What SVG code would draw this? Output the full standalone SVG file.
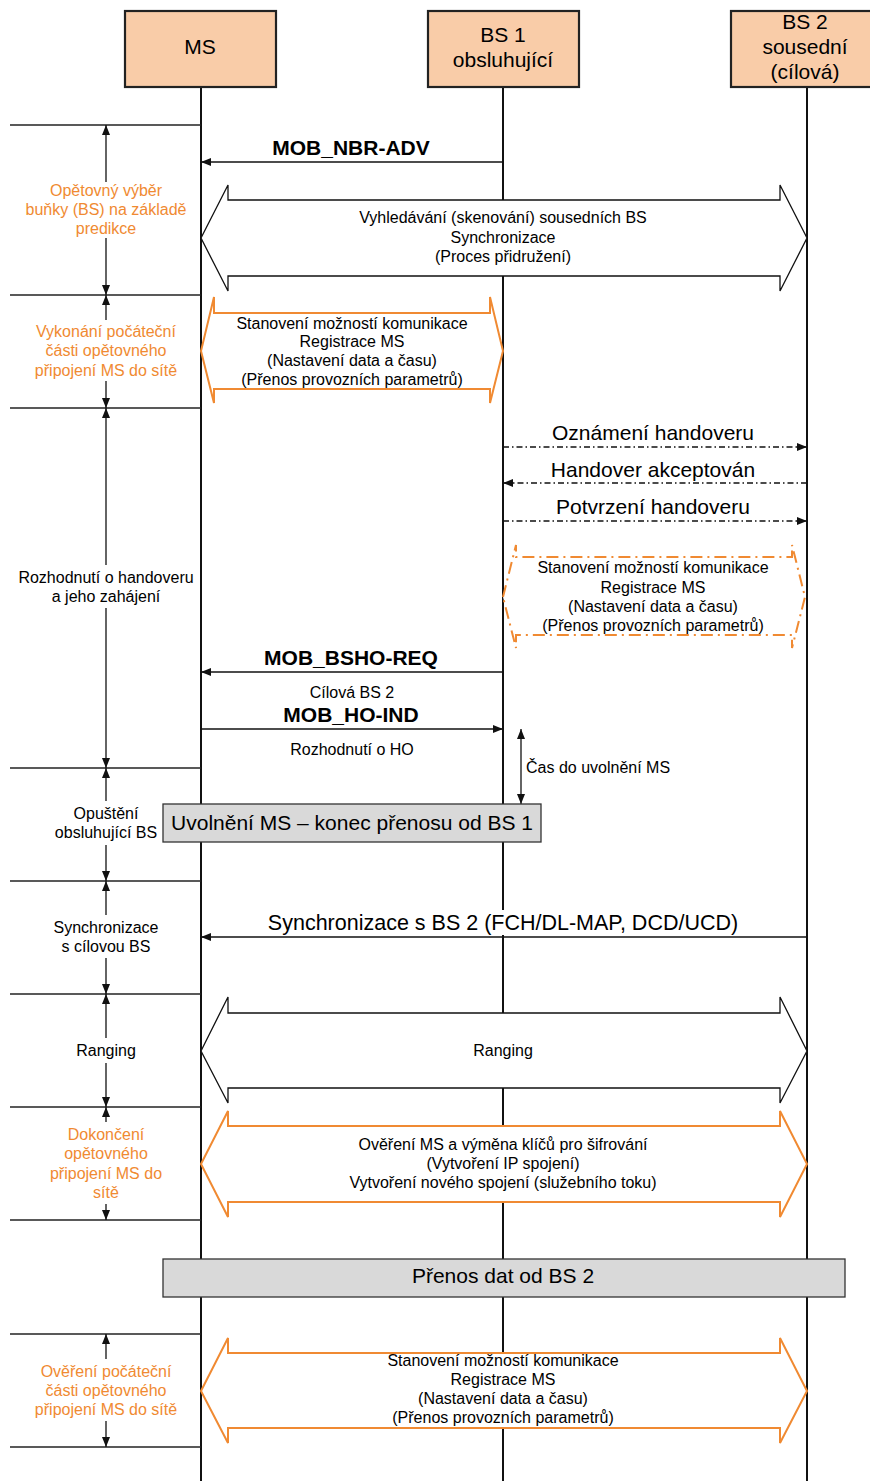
<svg xmlns="http://www.w3.org/2000/svg" width="870" height="1481" viewBox="0 0 870 1481">
<style>
text{font-family:"Liberation Sans",Arial,sans-serif;fill:#000;text-anchor:middle}
.t16{font-size:16px}
.t21{font-size:21px}
.b21{font-size:21px;font-weight:bold}
.or{fill:#F08A32}
.hdr{fill:#F9CCA8;stroke:#222;stroke-width:2.2}
.life{stroke:#111;stroke-width:2;fill:none}
.sep{stroke:#222;stroke-width:1.3;fill:none}
.msg{stroke:#111;stroke-width:1.3;fill:none}
.dd{stroke:#111;stroke-width:1.3;fill:none;stroke-dasharray:6 3 1.5 3}
.blk{fill:#fff;stroke:#111;stroke-width:1.3}
.oblk{fill:#fff;stroke:#F08A32;stroke-width:2}
.odash{fill:#fff;stroke:#F08A32;stroke-width:2;stroke-dasharray:12 5 2 5}
.gray{fill:#D9D9D9;stroke:#333;stroke-width:1.3}
</style>
<defs>
<marker id="ah" viewBox="0 0 10 8" refX="10" refY="4" markerWidth="10" markerHeight="8" markerUnits="userSpaceOnUse" orient="auto-start-reverse">
<path d="M0,0 L10,4 L0,8 z" fill="#111"/>
</marker>
</defs>

<g id="lifelines">
<line class="life" x1="201" y1="87" x2="201" y2="1481"/>
<line class="life" x1="503" y1="87" x2="503" y2="1481"/>
<line class="life" x1="807" y1="87" x2="807" y2="1481"/>
</g>

<g id="node-ms">
<rect class="hdr" x="125" y="11" width="151" height="76"/>
<text class="t21" x="200" y="54">MS</text>
</g>
<g id="node-bs1">
<rect class="hdr" x="428" y="11" width="151" height="76"/>
<text class="t21" x="503" y="42">BS 1</text>
<text class="t21" x="503" y="67">obsluhující</text>
</g>
<g id="node-bs2">
<rect class="hdr" x="731" y="11" width="150" height="76"/>
<text class="t21" x="805" y="29">BS 2</text>
<text class="t21" x="805" y="54">sousední</text>
<text class="t21" x="805" y="79">(cílová)</text>
</g>

<g id="connectors">
<!-- phase separators -->
<line class="sep" x1="10" y1="125" x2="201" y2="125"/>
<line class="sep" x1="10" y1="295" x2="201" y2="295"/>
<line class="sep" x1="10" y1="408" x2="201" y2="408"/>
<line class="sep" x1="10" y1="768" x2="201" y2="768"/>
<line class="sep" x1="10" y1="881" x2="201" y2="881"/>
<line class="sep" x1="10" y1="994" x2="201" y2="994"/>
<line class="sep" x1="10" y1="1107" x2="201" y2="1107"/>
<line class="sep" x1="10" y1="1220" x2="201" y2="1220"/>
<line class="sep" x1="10" y1="1334" x2="201" y2="1334"/>
<line class="sep" x1="10" y1="1447" x2="201" y2="1447"/>
<!-- phase extent arrows -->
<line class="msg" x1="106" y1="182" x2="106" y2="125" marker-end="url(#ah)"/>
<line class="msg" x1="106" y1="238" x2="106" y2="295" marker-end="url(#ah)"/>
<line class="msg" x1="106" y1="320" x2="106" y2="295" marker-end="url(#ah)"/>
<line class="msg" x1="106" y1="381" x2="106" y2="408" marker-end="url(#ah)"/>
<line class="msg" x1="106" y1="565" x2="106" y2="408" marker-end="url(#ah)"/>
<line class="msg" x1="106" y1="608" x2="106" y2="768" marker-end="url(#ah)"/>
<line class="msg" x1="106" y1="801" x2="106" y2="768" marker-end="url(#ah)"/>
<line class="msg" x1="106" y1="845" x2="106" y2="881" marker-end="url(#ah)"/>
<line class="msg" x1="106" y1="915" x2="106" y2="881" marker-end="url(#ah)"/>
<line class="msg" x1="106" y1="958" x2="106" y2="994" marker-end="url(#ah)"/>
<line class="msg" x1="106" y1="1038" x2="106" y2="994" marker-end="url(#ah)"/>
<line class="msg" x1="106" y1="1063" x2="106" y2="1107" marker-end="url(#ah)"/>
<line class="msg" x1="106" y1="1122" x2="106" y2="1107" marker-end="url(#ah)"/>
<line class="msg" x1="106" y1="1204" x2="106" y2="1220" marker-end="url(#ah)"/>
<line class="msg" x1="106" y1="1359" x2="106" y2="1334" marker-end="url(#ah)"/>
<line class="msg" x1="106" y1="1421" x2="106" y2="1447" marker-end="url(#ah)"/>
<!-- messages -->
<line class="msg" x1="503" y1="162" x2="201" y2="162" marker-end="url(#ah)"/>
<line class="dd" x1="503" y1="447" x2="807" y2="447" marker-end="url(#ah)"/>
<line class="dd" x1="807" y1="483" x2="503" y2="483" marker-end="url(#ah)"/>
<line class="dd" x1="503" y1="521" x2="807" y2="521" marker-end="url(#ah)"/>
<line class="msg" x1="503" y1="672" x2="201" y2="672" marker-end="url(#ah)"/>
<line class="msg" x1="201" y1="729" x2="503" y2="729" marker-end="url(#ah)"/>
<line class="msg" x1="521" y1="729" x2="521" y2="804" marker-start="url(#ah)" marker-end="url(#ah)"/>
<line class="msg" x1="807" y1="937" x2="201" y2="937" marker-end="url(#ah)"/>
</g>

<g id="phase-labels">
<text class="t16 or" x="106" y="196">Opětovný výběr</text>
<text class="t16 or" x="106" y="215">buňky (BS) na základě</text>
<text class="t16 or" x="106" y="234">predikce</text>
<text class="t16 or" x="106" y="337">Vykonání počáteční</text>
<text class="t16 or" x="106" y="356">části opětovného</text>
<text class="t16 or" x="106" y="376">připojení MS do sítě</text>
<text class="t16" x="106" y="583">Rozhodnutí o handoveru</text>
<text class="t16" x="106" y="602">a jeho zahájení</text>
<text class="t16" x="106" y="819">Opuštění</text>
<text class="t16" x="106" y="838">obsluhující BS</text>
<text class="t16" x="106" y="933">Synchronizace</text>
<text class="t16" x="106" y="952">s cílovou BS</text>
<text class="t16" x="106" y="1056">Ranging</text>
<text class="t16 or" x="106" y="1140">Dokončení</text>
<text class="t16 or" x="106" y="1159">opětovného</text>
<text class="t16 or" x="106" y="1179">připojení MS do</text>
<text class="t16 or" x="106" y="1198">sítě</text>
<text class="t16 or" x="106" y="1377">Ověření počáteční</text>
<text class="t16 or" x="106" y="1396">části opětovného</text>
<text class="t16 or" x="106" y="1415">připojení MS do sítě</text>
</g>

<g id="msg-labels">
<text class="b21" x="351" y="155">MOB_NBR-ADV</text>
<text class="t21" x="653" y="440">Oznámení handoveru</text>
<text class="t21" x="653" y="477">Handover akceptován</text>
<text class="t21" x="653" y="514">Potvrzení handoveru</text>
<text class="b21" x="351" y="665">MOB_BSHO-REQ</text>
<text class="t16" x="352" y="698">Cílová BS 2</text>
<text class="b21" x="351" y="722">MOB_HO-IND</text>
<text class="t16" x="352" y="755">Rozhodnutí o HO</text>
<text class="t16" x="526" y="773" style="text-anchor:start">Čas do uvolnění MS</text>
<rect x="266" y="910" width="474" height="25" fill="#fff"/>
<text class="t21" x="503" y="930" style="font-size:21.5px">Synchronizace s BS 2 (FCH/DL-MAP, DCD/UCD)</text>
</g>

<g id="block-scan">
<polygon class="blk" points="201,238 228,185 228,200 780,200 780,185 807,238 780,291 780,276 228,276 228,291"/>
<text class="t16" x="503" y="223">Vyhledávání (skenování) sousedních BS</text>
<text class="t16" x="503" y="243">Synchronizace</text>
<text class="t16" x="503" y="262">(Proces přidružení)</text>
</g>

<g id="block-init1">
<polygon class="oblk" points="201,351 214,297 214,313 490,313 490,297 503,351 490,403 490,389 214,389 214,403"/>
<text class="t16" x="352" y="329">Stanovení možností komunikace</text>
<text class="t16" x="352" y="347">Registrace MS</text>
<text class="t16" x="352" y="366">(Nastavení data a času)</text>
<text class="t16" x="352" y="385">(Přenos provozních parametrů)</text>
</g>

<g id="block-init2">
<polygon class="odash" points="503,597 516,545 516,557 792,557 792,545 805,597 792,648 792,635 516,635 516,648"/>
<text class="t16" x="653" y="573">Stanovení možností komunikace</text>
<text class="t16" x="653" y="593">Registrace MS</text>
<text class="t16" x="653" y="612">(Nastavení data a času)</text>
<text class="t16" x="653" y="631">(Přenos provozních parametrů)</text>
</g>

<g id="box-release">
<rect class="gray" x="163" y="804" width="378" height="38"/>
<text class="t21" x="352" y="830">Uvolnění MS – konec přenosu od BS 1</text>
</g>

<g id="block-ranging">
<polygon class="blk" points="201,1051 228,997 228,1013 780,1013 780,997 807,1051 780,1103 780,1088 228,1088 228,1103"/>
<text class="t16" x="503" y="1056">Ranging</text>
</g>

<g id="block-auth">
<polygon class="oblk" points="201,1164 228,1111 228,1126 780,1126 780,1111 807,1164 780,1217 780,1202 228,1202 228,1217"/>
<text class="t16" x="503" y="1150">Ověření MS a výměna klíčů pro šifrování</text>
<text class="t16" x="503" y="1169">(Vytvoření IP spojení)</text>
<text class="t16" x="503" y="1188">Vytvoření nového spojení (služebního toku)</text>
</g>

<g id="box-data">
<rect class="gray" x="163" y="1259" width="682" height="38"/>
<text class="t21" x="503" y="1283">Přenos dat od BS 2</text>
</g>

<g id="block-verify">
<polygon class="oblk" points="201,1391 228,1338 228,1353 780,1353 780,1338 807,1391 780,1443 780,1428 228,1428 228,1443"/>
<text class="t16" x="503" y="1366">Stanovení možností komunikace</text>
<text class="t16" x="503" y="1385">Registrace MS</text>
<text class="t16" x="503" y="1404">(Nastavení data a času)</text>
<text class="t16" x="503" y="1423">(Přenos provozních parametrů)</text>
</g>
</svg>
